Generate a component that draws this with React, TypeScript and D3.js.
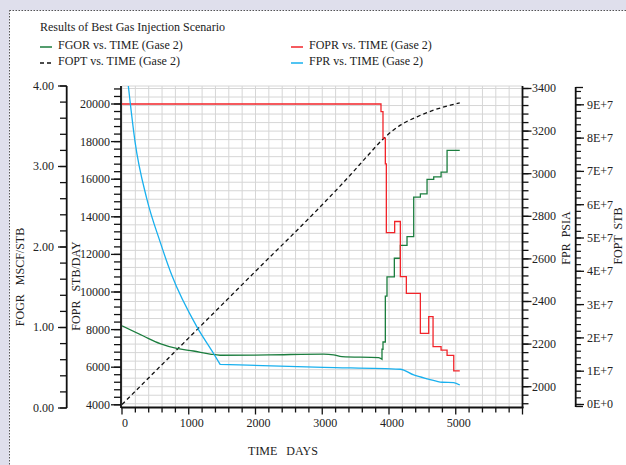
import React from "react";
import * as d3 from "d3";

// ---- Series data (time in days) ----
const foprTime = [0, 3880, 3910, 3945, 3960, 4085, 4170, 4260, 4470, 4595, 4660, 4780, 4870, 4970, 5060];
const foprValue = [20000, 19590, 18180, 16810, 13160, 13750, 10820, 9930, 7800, 8690, 7090, 6910, 6630, 5800, 5800];

const fgorTime = [0, 320, 570, 820, 1070, 1320, 1470, 2200, 3020, 3170, 3295, 3845, 3895, 3910, 3945, 3970, 4080, 4170, 4270, 4370, 4470, 4570, 4670, 4780, 4870, 4980, 5060];
const fgorValue = [1.02, 0.894, 0.8, 0.74, 0.708, 0.67, 0.655, 0.66, 0.67, 0.66, 0.637, 0.625, 0.605, 0.73, 0.82, 1.39, 1.63, 1.86, 2.02, 2.13, 2.62, 2.66, 2.84, 2.87, 2.93, 3.2, 3.2];

const fprTime = [0, 95, 195, 370, 570, 745, 1120, 1370, 1470, 3020, 4170, 4370, 4590, 4795, 4970, 5060];
const fprValue = [3700, 3412, 3151, 2884, 2681, 2524, 2282, 2157, 2105, 2091, 2082, 2055, 2036, 2021, 2019, 2008];

const foptTime = [0, 1000, 2000, 3000, 3420, 3670, 3920, 4170, 4420, 4670, 4920, 5060];
const foptValue = [0, 2.0e7, 4.0e7, 6.0e7, 6.89e7, 7.45e7, 7.99e7, 8.39e7, 8.64e7, 8.84e7, 8.99e7, 9.06e7];

// ---- Axis ticks ----
const timeTicks = [0, 1000, 2000, 3000, 4000, 5000];
const fgorTicks = [0, 1, 2, 3, 4];
const foprTicks = [4000, 6000, 8000, 10000, 12000, 14000, 16000, 18000, 20000];
const fprTicks = [2000, 2200, 2400, 2600, 2800, 3000, 3200, 3400];
const foptTicks = [0, 1e7, 2e7, 3e7, 4e7, 5e7, 6e7, 7e7, 8e7, 9e7];

const title = "Results of Best Gas Injection Scenario";
const legendItems = [
  { label: "FGOR vs. TIME (Gase 2)", color: "#1b7d3e", dash: "" },
  { label: "FOPT vs. TIME (Gase 2)", color: "#111111", dash: "4,3" },
  { label: "FOPR vs. TIME (Gase 2)", color: "#f2242a", dash: "" },
  { label: "FPR vs. TIME (Gase 2)", color: "#19b0ee", dash: "" },
];

const FONT = "'Liberation Serif', 'Times New Roman', serif";

export default function App() {
  const W = 626;
  const H = 465;
  const left = 122;
  const right = 522.5;
  const top = 86;
  const bottom = 407.5;

  const x = d3.scaleLinear().domain([0, 6000]).range([left, right]);
  const yGor = d3.scaleLinear().domain([0, 4]).range([408, 86]);
  const yOpr = d3.scaleLinear().domain([4000, 20000]).range([404.8, 104]);
  const yPr = d3.scaleLinear().domain([2000, 3400]).range([386.7, 88.5]);
  const yOpt = d3.scaleLinear().domain([0, 9e7]).range([404.5, 104.8]);

  const stepLine = (xs: number[], ys: number[], ys2: d3.ScaleLinear<number, number>) =>
    d3.line<number>().x((_, i) => x(xs[i])).y((_, i) => ys2(ys[i])).curve(d3.curveStepAfter)(ys) || "";
  const smoothLine = (xs: number[], ys: number[], ys2: d3.ScaleLinear<number, number>) =>
    d3.line<number>().x((_, i) => x(xs[i])).y((_, i) => ys2(ys[i])).curve(d3.curveMonotoneX)(ys) || "";

  // FGOR: smooth decline early, then step changes late in time
  const gorSplit = 12;
  const gorPath =
    (d3.line<number>().x((_, i) => x(fgorTime[i])).y((_, i) => yGor(fgorValue[i])).curve(d3.curveMonotoneX)(fgorValue.slice(0, gorSplit + 1)) || "") +
    (d3
      .line<number>()
      .x((_, i) => x(fgorTime[i + gorSplit]))
      .y((_, i) => yGor(fgorValue[i + gorSplit]))
      .curve(d3.curveStepBefore)(fgorValue.slice(gorSplit)) || "").replace(/^M/, "L");

  const oprPath = stepLine(foprTime, foprValue, yOpr);
  const prPath =
    (d3.line<number>().x((_, i) => x(fprTime[i])).y((_, i) => yPr(fprValue[i])).curve(d3.curveMonotoneX)(fprValue.slice(0, 9)) || "") +
    (d3.line<number>().x((_, i) => x(fprTime[i + 8])).y((_, i) => yPr(fprValue[i + 8])).curve(d3.curveMonotoneX)(fprValue.slice(8)) || "").replace(/^M/, "L");
  const optPath = smoothLine(foptTime, foptValue, yOpt);

  const vGrid = d3.range(0, 6001, 200);
  const hGrid = d3.range(1920, 3401, 40);
  const gorMinor = d3.range(0, 4.001, 0.2);
  const oprMinor = d3.range(4000, 20801, 400);
  const prMinor = d3.range(1920, 3401, 40);
  const optMinor = d3.range(0, 9.41e7, 2e6);

  const fmtOpt = (v: number) => (v === 0 ? "0E+0" : `${Math.round(v / 1e7)}E+7`);

  const txt = { fontFamily: FONT, fontSize: 12, fill: "#222" } as const;

  return (
    <div style={{ position: "fixed", left: 0, top: 0, width: W, height: H }}>
      <svg width={W} height={H} style={{ display: "block" }}>
        <defs>
          <clipPath id="plotClip">
            <rect x={left} y={top} width={right - left} height={bottom - top} />
          </clipPath>
        </defs>
        <rect x={0} y={0} width={W} height={H} fill="#dfdfec" />
        <rect x={9.5} y={10.5} width={W} height={H} fill="#ffffff" stroke="#555" strokeWidth={1} strokeDasharray="1.5,1.5" />

        {/* Title and legend */}
        <text x={40} y={31} {...txt}>{title}</text>
        {legendItems.map((d, i) => {
          const col = i < 2 ? 0 : 1;
          const row = i % 2;
          const lx = col === 0 ? 40 : 291;
          const ly = 49 + row * 16;
          return (
            <g key={d.label}>
              <line x1={lx} x2={lx + 12} y1={ly - 2} y2={ly - 2} stroke={d.color} strokeWidth={1.5} strokeDasharray={d.dash || undefined} />
              <text x={lx + 18} y={ly} {...txt}>{d.label}</text>
            </g>
          );
        })}

        {/* Grid */}
        <g stroke="#d6d6d6" strokeWidth={1}>
          {vGrid.map((t) => (
            <line key={"v" + t} x1={x(t)} x2={x(t)} y1={top} y2={bottom} />
          ))}
          {hGrid.map((t) => (
            <line key={"h" + t} x1={left} x2={right} y1={yPr(t)} y2={yPr(t)} />
          ))}
          <line x1={left} x2={right} y1={top} y2={top} />
        </g>

        {/* Series */}
        <g clipPath="url(#plotClip)" fill="none" strokeWidth={1.3}>
          <path d={optPath} stroke="#111" strokeDasharray="4,3" />
          <path d={gorPath} stroke="#1b7d3e" />
          <path d={oprPath} stroke="#f2242a" />
          <path d={prPath} stroke="#19b0ee" />
        </g>

        {/* Bottom time axis */}
        <g>
          <line x1={left - 1} x2={right + 1} y1={bottom} y2={bottom} stroke="#111" strokeWidth={2.2} />
          {vGrid.map((t) => (
            <line key={"bt" + t} x1={x(t)} x2={x(t)} y1={bottom} y2={bottom + (t % 1000 === 0 ? 7 : 5)} stroke="#111" strokeWidth={1.3} />
          ))}
          {timeTicks.map((t) => (
            <text key={"bl" + t} x={x(t) + 3} y={427} textAnchor="middle" {...txt}>{t}</text>
          ))}
          <text x={283} y={455} textAnchor="middle" {...txt} style={{ whiteSpace: "pre" }}>{"TIME   DAYS"}</text>
        </g>

        {/* FGOR axis */}
        <g>
          <line x1={66.7} x2={66.7} y1={86} y2={408} stroke="#111" strokeWidth={1.8} />
          {gorMinor.map((t) => (
            <line key={"gm" + t} x1={66.7} x2={60} y1={yGor(t)} y2={yGor(t)} stroke="#111" strokeWidth={1.3} />
          ))}
          {fgorTicks.map((t) => (
            <g key={"gt" + t}>
              <line x1={66.7} x2={58} y1={yGor(t)} y2={yGor(t)} stroke="#111" strokeWidth={1.3} />
              <text x={54} y={yGor(t)} dy="0.33em" textAnchor="end" {...txt}>{d3.format(".2f")(t)}</text>
            </g>
          ))}
          <text transform="translate(24,277) rotate(-90)" textAnchor="middle" {...txt} style={{ whiteSpace: "pre" }}>{"FOGR   MSCF/STB"}</text>
        </g>

        {/* FOPR axis */}
        <g>
          <line x1={121} x2={121} y1={86} y2={408} stroke="#111" strokeWidth={1.8} />
          {oprMinor.map((t) => (
            <line key={"om" + t} x1={121} x2={114} y1={yOpr(t)} y2={yOpr(t)} stroke="#111" strokeWidth={1.3} />
          ))}
          {foprTicks.map((t) => (
            <g key={"ot" + t}>
              <line x1={121} x2={111} y1={yOpr(t)} y2={yOpr(t)} stroke="#111" strokeWidth={1.3} />
              <text x={110} y={yOpr(t)} dy="0.33em" textAnchor="end" {...txt}>{t}</text>
            </g>
          ))}
          <text transform="translate(80,286) rotate(-90)" textAnchor="middle" {...txt} style={{ whiteSpace: "pre" }}>{"FOPR   STB/DAY"}</text>
        </g>

        {/* FPR axis */}
        <g>
          <line x1={right} x2={right} y1={86} y2={408} stroke="#111" strokeWidth={1.8} />
          {prMinor.map((t) => (
            <line key={"pm" + t} x1={right} x2={right + 6} y1={yPr(t)} y2={yPr(t)} stroke="#111" strokeWidth={1.3} />
          ))}
          {fprTicks.map((t) => (
            <g key={"pt" + t}>
              <line x1={right} x2={right + 9} y1={yPr(t)} y2={yPr(t)} stroke="#111" strokeWidth={1.3} />
              <text x={532} y={yPr(t)} dy="0.33em" {...txt}>{t}</text>
            </g>
          ))}
          <text transform="translate(570,238) rotate(-90)" textAnchor="middle" {...txt} style={{ whiteSpace: "pre" }}>{"FPR  PSIA"}</text>
        </g>

        {/* FOPT axis */}
        <g>
          <line x1={575.7} x2={575.7} y1={87} y2={407} stroke="#111" strokeWidth={1.8} />
          <line x1={575.7} x2={583} y1={87.5} y2={87.5} stroke="#111" strokeWidth={1.3} />
          <line x1={575.7} x2={583} y1={406.5} y2={406.5} stroke="#111" strokeWidth={1.3} />
          {optMinor.map((t) => (
            <line key={"fm" + t} x1={575.7} x2={581} y1={yOpt(t)} y2={yOpt(t)} stroke="#111" strokeWidth={1.2} />
          ))}
          {foptTicks.map((t) => (
            <g key={"ft" + t}>
              <line x1={575.7} x2={584} y1={yOpt(t)} y2={yOpt(t)} stroke="#111" strokeWidth={1.3} />
              <text x={587} y={yOpt(t)} dy="0.33em" {...txt}>{fmtOpt(t)}</text>
            </g>
          ))}
          <text transform="translate(622,236) rotate(-90)" textAnchor="middle" {...txt} style={{ whiteSpace: "pre" }}>{"FOPT  STB"}</text>
        </g>
      </svg>
    </div>
  );
}
